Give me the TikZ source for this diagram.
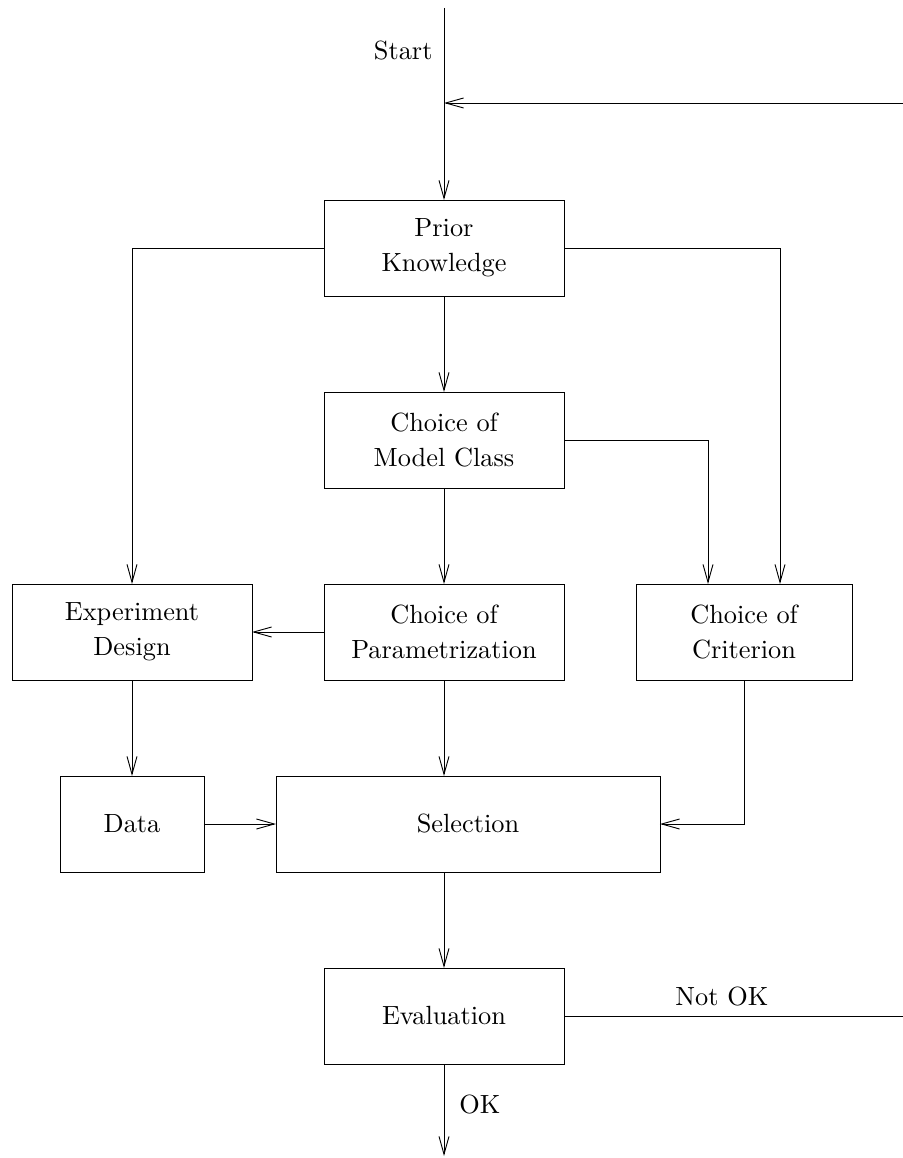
\documentclass[tikz,border=0pt]{standalone}
\usetikzlibrary{arrows.meta}
\begin{document}
\begin{tikzpicture}[x=0.38pt,y=-0.38pt,
  line width=0.35pt,
  every node/.style={font=\fontsize{10}{13.3}\selectfont},
  box/.style={draw,align=center,inner sep=0pt,outer sep=0pt,minimum height=36.5pt},
  wbox/.style={box,minimum width=91.2pt},
  arr/.style={-{Straight Barb[length=6.8pt,width=3.8pt,line width=0.35pt]}}]
\useasboundingbox (0,0) rectangle (903,1158);
% boxes
\node[wbox] (prior) at (444,248) {Prior\\Knowledge};
\node[wbox] (model) at (444,440) {Choice of\\Model Class};
\node[wbox] (exp) at (132,632) {Experiment\\Design};
\node[wbox] (param) at (444,632) {Choice of\\Parametrization};
\node[box,minimum width=82.1pt] (crit) at (744,632) {Choice of\\Criterion};
\node[box,minimum width=54.7pt] (data) at (132,824) {Data};
\node[box,minimum width=145.9pt] (sel) at (468,824) {Selection};
\node[wbox] (eval) at (444,1016) {Evaluation};
% coordinates
\coordinate (top) at (444,8);
\coordinate (loopR) at (903,103);
\coordinate (loopJ) at (444,103);
\coordinate (cin1) at (708,584);
\coordinate (cin2) at (780,584);
\coordinate (bot) at (444,1156);
\coordinate (nokR) at (903,1016);
% labels
\node[anchor=base east,inner sep=0pt] (start) at (433,60) {Start};
\node[anchor=base west,inner sep=0pt] (ok) at (459,1113) {OK};
\node[anchor=base west,inner sep=0pt] (nok) at (675,1005) {Not OK};
% connectors
\draw[arr] (top) -- (prior.north);
\draw[arr] (loopR) -- (loopJ);
\draw[arr] (prior.west) -| (exp.north);
\draw[arr] (prior.east) -| (cin2);
\draw[arr] (prior) -- (model);
\draw[arr] (model.east) -| (cin1);
\draw[arr] (model) -- (param);
\draw[arr] (param) -- (exp);
\draw[arr] (exp) -- (data);
\draw[arr] (param.south) -- (param.south |- sel.north);
\draw[arr] (data) -- (sel);
\draw[arr] (crit.south) |- (sel.east);
\draw[arr] (eval.north |- sel.south) -- (eval.north);
\draw[arr] (eval) -- (bot);
\draw (eval.east) -- (nokR);
\end{tikzpicture}
\end{document}
